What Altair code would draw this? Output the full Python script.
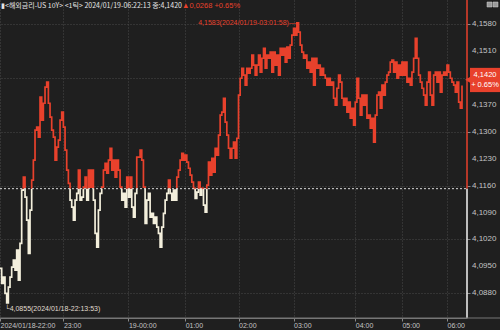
import altair as alt
import pandas as pd

# ---- data (US 10Y yield, tick chart) ----
values = [
    4.0945, 4.0906, 4.0922, 4.0880, 4.0855, 4.0896, 4.0922, 4.0948, 4.0966, 4.0940,
    4.0992, 4.0914, 4.1010, 4.1148, 4.1182, 4.1130, 4.1070, 4.0984, 4.1096, 4.1174,
    4.1226, 4.1304, 4.1312, 4.1286, 4.1390, 4.1330, 4.1374, 4.1416, 4.1429, 4.1374,
    4.1338, 4.1304, 4.1286, 4.1226, 4.1260, 4.1278, 4.1330, 4.1351, 4.1312, 4.1252,
    4.1200, 4.1166, 4.1122, 4.1104, 4.1070, 4.1122, 4.1140, 4.1200, 4.1122, 4.1130,
    4.1156, 4.1182, 4.1122, 4.1200, 4.1156, 4.1200,
    4.1122, 4.1036, 4.1000, 4.1096, 4.1140, 4.1156, 4.1200, 4.1218, 4.1192, 4.1226,
    4.1257, 4.1200, 4.1226, 4.1182, 4.1226, 4.1200, 4.1156, 4.1122, 4.1140, 4.1104,
    4.1182, 4.1130, 4.1182, 4.1104, 4.1078, 4.1140, 4.1234, 4.1234, 4.1252, 4.1226,
    4.1156, 4.1062, 4.1122, 4.1140, 4.1078, 4.1088, 4.1062, 4.1078, 4.1052, 4.1036,
    4.1000, 4.1052, 4.1088, 4.1122, 4.1140, 4.1174, 4.1140, 4.1122, 4.1148, 4.1122,
    4.1182, 4.1200, 4.1226, 4.1244, 4.1226,
    4.1239, 4.1221, 4.1205, 4.1187, 4.1169, 4.1153, 4.1127, 4.1143, 4.1169, 4.1135,
    4.1153, 4.1109, 4.1091, 4.1161, 4.1221, 4.1187, 4.1231, 4.1195, 4.1257, 4.1239,
    4.1291, 4.1343, 4.1351, 4.1387, 4.1325, 4.1291, 4.1257, 4.1231, 4.1257, 4.1273,
    4.1231, 4.1283, 4.1395, 4.1439, 4.1465, 4.1447, 4.1421, 4.1465, 4.1452, 4.1465,
    4.1499, 4.1473, 4.1447, 4.1473, 4.1499, 4.1455, 4.1491, 4.1517, 4.1465, 4.1499,
    4.1491, 4.1507, 4.1455, 4.1507, 4.1473, 4.1499, 4.1447, 4.1517, 4.1499,
    4.1517, 4.1481, 4.1520, 4.1491, 4.1525, 4.1551, 4.1569, 4.1551, 4.1583, 4.1559,
    4.1525, 4.1507, 4.1491, 4.1499, 4.1465, 4.1481, 4.1455, 4.1491, 4.1421, 4.1491,
    4.1465, 4.1473, 4.1447, 4.1465, 4.1447, 4.1439, 4.1421, 4.1439, 4.1421, 4.1429,
    4.1387, 4.1369, 4.1413, 4.1447, 4.1429, 4.1387, 4.1369, 4.1387, 4.1351, 4.1377,
    4.1335, 4.1361, 4.1317, 4.1377, 4.1439, 4.1387, 4.1343, 4.1395, 4.1369, 4.1395,
    4.1335, 4.1343, 4.1309, 4.1335, 4.1273, 4.1343, 4.1395, 4.1403,
    4.1361, 4.1421, 4.1395, 4.1429, 4.1447, 4.1455, 4.1481, 4.1486, 4.1455, 4.1481,
    4.1439, 4.1473, 4.1447, 4.1481, 4.1447, 4.1481, 4.1429, 4.1439, 4.1421, 4.1455,
    4.1491, 4.1543, 4.1491, 4.1447, 4.1429, 4.1413, 4.1395, 4.1369, 4.1429, 4.1455,
    4.1395, 4.1369, 4.1447, 4.1455, 4.1429, 4.1455, 4.1403, 4.1447, 4.1455, 4.1447,
    4.1473, 4.1455, 4.1439, 4.1429, 4.1421, 4.1403, 4.1429, 4.1377, 4.1361, 4.1420,
]
prev_close = 4.1152
last_value = 4.1420
change_txt = "▲0,0268"
pct_txt = "+0.65%"
box_pct = "+ 0.65%"
max_value, max_label = 4.1583, "4,1583(2024/01/19-03:01:58)—"
min_value, min_label = 4.0855, "└4,0855(2024/01/18-22:13:53)"
header = "▮<해외금리-US 10Y> <1틱> 2024/01/19-06:22:13 종:4,1420"

time_idx = [0, 38, 77, 111, 143, 176, 213, 241, 268]
time_lbl = ["2024/01/18-22:00", "23:00", "19-00:00", "01:00", "02:00",
            "03:00", "04:00", "05:00", "06:00"]
y_ticks = [4.0880, 4.0950, 4.1020, 4.1090, 4.1160, 4.1230,
           4.1300, 4.1370, 4.1440, 4.1510, 4.1580]

# ---- split the stepped line into runs above / below the previous close ----
rows = []
seg = 0
prev_side = None
for i, v in enumerate(values):
    side = "up" if v >= prev_close else "down"
    if prev_side is not None and side != prev_side:
        rows.append(dict(idx=i, val=prev_close, seg=seg, side=prev_side))
        seg += 1
        rows.append(dict(idx=i, val=prev_close, seg=seg, side=side))
    rows.append(dict(idx=i, val=v, seg=seg, side=side))
    prev_side = side
df = pd.DataFrame(rows)
df["ord"] = range(len(df))

ytick_df = pd.DataFrame({"v": y_ticks,
                         "lbl": [f"{t:.4f}".replace(".", ",") for t in y_ticks]})

max_idx = values.index(max_value)
min_idx = values.index(min_value)

W, H = 467, 318
BG = "#1f1f1f"
RED = "#e8412c"
CREAM = "#f3efdc"
GRID = "#4a4a4a"
LBL = "#c4c4c4"
FONT = "Liberation Sans"
KFONT = "Noto Sans CJK KR"

xs = alt.Scale(domain=[0, 280], nice=False, zero=False)
ys = alt.Scale(domain=[4.08158, 4.16424], nice=False, zero=False)

idx_arr = "[" + ",".join(str(v) for v in time_idx) + "]"
lbl_arr = "[" + ",".join("'" + s + "'" for s in time_lbl) + "]"

x_axis = alt.Axis(values=time_idx, labelExpr=f"{lbl_arr}[indexof({idx_arr}, datum.value)]",
                  labelAlign="left", labelPadding=0, labelFontSize=7, labelColor=LBL,
                  labelFont=FONT, tickSize=3, tickColor="#888", domainColor="#777",
                  grid=True, gridColor=GRID, gridDash=[1, 2], title=None,
                  labelOverlap=False, labelFlush=False)
y_axis = alt.Axis(orient="right", values=y_ticks, labels=False,
                  tickSize=3, tickColor="#888", domain=False, grid=True,
                  gridColor=GRID, gridDash=[1, 2], title=None)

line = alt.Chart(df).mark_line(strokeWidth=1.7, interpolate="step-after").encode(
    x=alt.X("idx:Q", scale=xs, axis=x_axis),
    y=alt.Y("val:Q", scale=ys, axis=y_axis),
    detail="seg:N",
    order="ord:Q",
    color=alt.Color("side:N", scale=alt.Scale(domain=["up", "down"], range=[RED, CREAM]),
                    legend=None),
)

ylabels = alt.Chart(ytick_df).mark_text(color=LBL, fontSize=8, font=FONT, align="left",
                                        baseline="middle").encode(
    x=alt.value(W + 5), y=alt.Y("v:Q", scale=ys), text="lbl:N")

base_rule = alt.Chart().mark_rule(color="#d8d8d8", strokeDash=[2, 2], strokeWidth=1).encode(
    x=alt.datum(0, scale=xs), x2=alt.datum(280), y=alt.datum(prev_close, scale=ys))

edge_up = alt.Chart().mark_rule(color=RED, strokeWidth=1.5).encode(
    x=alt.datum(280, scale=xs), y=alt.datum(prev_close, scale=ys), y2=alt.datum(4.16424))
edge_dn = alt.Chart().mark_rule(color="#f5f5f5", strokeWidth=1.5).encode(
    x=alt.datum(280, scale=xs), y=alt.datum(4.08158, scale=ys), y2=alt.datum(prev_close))
x_line = alt.Chart().mark_rule(color="#777", strokeWidth=1).encode(
    x=alt.value(0), x2=alt.value(W + 33), y=alt.value(H))

max_txt = alt.Chart().mark_text(color=RED, fontSize=7, font=FONT, align="right",
                                baseline="middle", dx=-1, text=max_label).encode(
    x=alt.datum(max_idx, scale=xs), y=alt.datum(max_value, scale=ys))
min_txt = alt.Chart().mark_text(color="#e0ddd0", fontSize=7, font=FONT, align="left",
                                baseline="top", dx=-2, dy=2, text=min_label).encode(
    x=alt.datum(min_idx, scale=xs), y=alt.datum(min_value, scale=ys))

head1 = alt.Chart().mark_text(color="#e6e6e6", fontSize=7, font=KFONT, align="left",
                              baseline="middle", text=header).encode(
    x=alt.value(1), y=alt.value(6))
head2 = alt.Chart().mark_text(color=RED, fontSize=7.5, font=FONT, align="left",
                              baseline="middle", text=change_txt + "  " + pct_txt).encode(
    x=alt.value(182), y=alt.value(6))

icon1 = alt.Chart().mark_rect(color="#9a9a9a", stroke="#d0d0d0", strokeWidth=0.5).encode(
    x=alt.value(W + 20), x2=alt.value(W + 25), y=alt.value(2), y2=alt.value(7))
icon2 = alt.Chart().mark_rect(color="#9a9a9a", stroke="#d0d0d0", strokeWidth=0.5).encode(
    x=alt.value(W + 26), x2=alt.value(W + 31), y=alt.value(2), y2=alt.value(7))

box = alt.Chart().mark_rect(color=RED).encode(
    x=alt.value(W + 3), x2=alt.value(W + 33),
    y=alt.datum(last_value + 0.0046, scale=ys), y2=alt.datum(last_value - 0.0017))
arrow = alt.Chart().mark_point(shape="triangle-left", filled=True, color=RED, size=45,
                               opacity=1).encode(
    x=alt.value(W + 1), y=alt.datum(last_value + 0.0015, scale=ys))
box_t1 = alt.Chart().mark_text(color="white", fontSize=7.5, font=FONT, align="center",
                               baseline="middle", dy=-5,
                               text=f"{last_value:.4f}".replace(".", ",")).encode(
    x=alt.value(W + 18), y=alt.datum(last_value + 0.0015, scale=ys))
box_t2 = alt.Chart().mark_text(color="white", fontSize=7.5, font=FONT, align="center",
                               baseline="middle", dy=5, text=box_pct).encode(
    x=alt.value(W + 18), y=alt.datum(last_value + 0.0015, scale=ys))

chart = alt.layer(
    line, ylabels, base_rule, edge_up, edge_dn, x_line, max_txt, min_txt, head1, head2,
    icon1, icon2, box, arrow, box_t1, box_t2
).properties(
    width=W, height=H, background=BG,
    autosize=alt.AutoSizeParams(type="none"),
    padding={"left": 0, "top": 0, "right": 33, "bottom": 12},
).configure_view(stroke=None)

chart.save("out.html", embed_options={"renderer": "svg", "actions": False})
